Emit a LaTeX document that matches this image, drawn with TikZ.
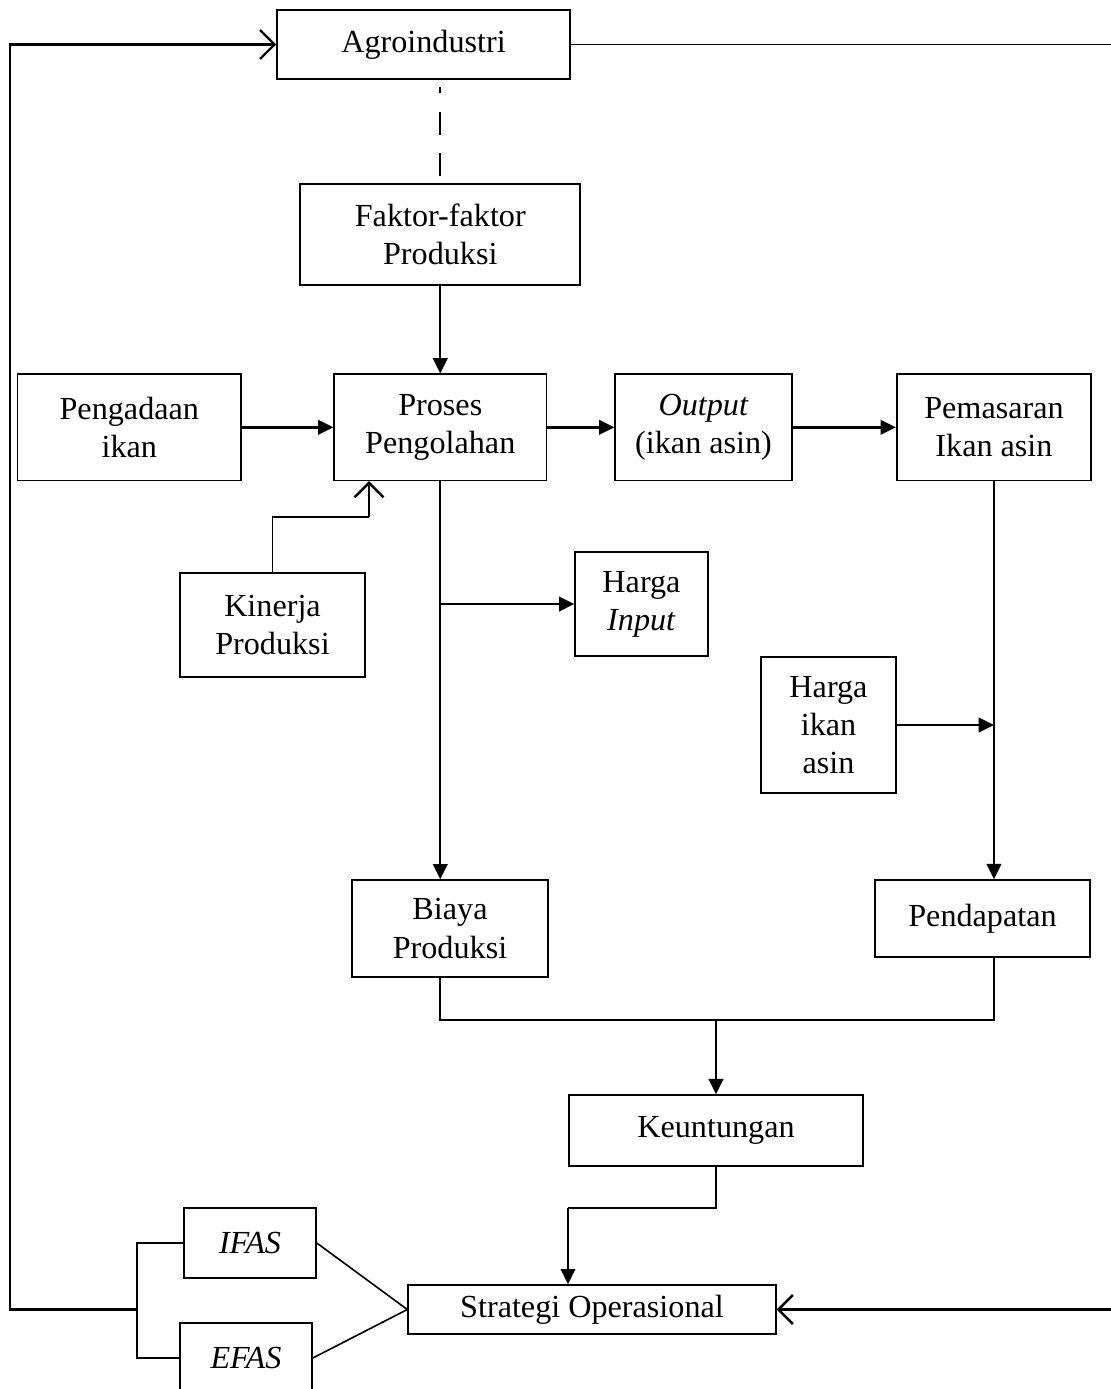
\documentclass[tikz,border=0pt]{standalone}
\usepackage{fontspec}
\setmainfont{Liberation Serif}
\usepackage{tikz}
\usetikzlibrary{positioning, arrows.meta}
\tikzset{
	every node/.append style={
		font=\fontsize{12}{14.2}\selectfont,
	},
	box/.append style={
		draw,
		align = center,
		line width=0.6pt,
		inner sep=0mm,
	},
	flow/.append style={
		line width=0.9pt,
		-{Triangle[length=2mm, width=1.9mm]},
	},
	feed/.append style={
		line width=0.9pt,
		-{Straight Barb[length=1.9mm, width=3.8mm]},
	},
	link/.append style={
		line width=0.6pt,
	},
}

\begin{document}
\begin{tikzpicture}[x=0.0131cm, y=-0.0131cm]
	
	\clip (0,0) rectangle (1111,1389);
	
	\node (agro)[box, minimum width=3.84cm, minimum height=0.9cm] at (423.5,44.5) {Agroindustri};
	\node (faktor)[box, minimum width=3.67cm, minimum height=1.32cm, below=1.36cm of agro, xshift=0.22cm] {Faktor-faktor\\Produksi};
	\draw[link, dash pattern=on 3mm off 2.4mm, shorten <=0.1cm, shorten >=0.1cm] (faktor.north) -- (faktor.north |- agro.south);
	
	%baris proses
	\node (proses)[box, minimum width=2.78cm, minimum height=1.39cm, below=1.15cm of faktor] {Proses\\Pengolahan};
	\node (pengadaan)[box, minimum width=2.93cm, minimum height=1.39cm, left=1.2cm of proses] {Pengadaan\\ikan};
	\node (output)[box, minimum width=2.32cm, minimum height=1.39cm, right=0.88cm of proses] {\textit{Output}\\(ikan asin)};
	\node (pemasaran)[box, minimum width=2.55cm, minimum height=1.39cm, right=1.35cm of output] {Pemasaran\\Ikan asin};
	\draw[flow](faktor) to (proses);
	\draw[flow](pengadaan) to (proses);
	\draw[flow](proses) to (output);
	\draw[flow](output) to (pemasaran);
	
	\node (kinerja)[box, minimum width=2.42cm, minimum height=1.36cm] at (272.5,625) {Kinerja\\Produksi};
	\coordinate (kinK) at (369,517);
	\draw[link](kinerja.north) |- (kinK);
	\draw[feed](kinK) -- (kinK |- proses.south);
	
	\node (hinput)[box, minimum width=1.74cm, minimum height=1.36cm] at (641.5,604) {Harga\\\textit{Input}};
	\node (biaya)[box, minimum width=2.57cm, minimum height=1.27cm] at (450,928.5) {Biaya\\Produksi};
	\draw[flow](proses.south) -- (proses.south |- biaya.north);
	\draw[flow](proses.south |- hinput.west) -- (hinput.west);
	
	\node (hikan)[box, minimum width=1.77cm, minimum height=1.78cm] at (828.5,725) {Harga\\ikan\\asin};
	\node (pendapatan)[box, minimum width=2.82cm, minimum height=1.01cm] at (982.5,918.5) {Pendapatan};
	\draw[flow](pemasaran.south) -- (pemasaran.south |- pendapatan.north);
	\draw[flow](hikan.east) -- (hikan.east -| pemasaran.south);
	
	%keuntungan
	\node (keuntungan)[box, minimum width=3.85cm, minimum height=0.93cm] at (716,1130.5) {Keuntungan};
	\coordinate (join) at (716,1020);
	\draw[link](proses.south |- biaya.south) |- (join) -| (pemasaran.south |- pendapatan.south);
	\draw[flow](join) to (keuntungan.north);
	
	\node (strategi)[box, minimum width=4.82cm, minimum height=0.64cm] at (592,1309.5) {Strategi Operasional};
	\coordinate (keunK) at (568,1208);
	\draw[link](keuntungan.south) |- (keunK);
	\draw[flow](keunK) -- (keunK |- strategi.north);
	
	\node (ifas)[box, minimum width=1.73cm, minimum height=0.92cm] at (250,1243) {\textit{IFAS}};
	\node (efas)[box, minimum width=1.73cm, minimum height=0.92cm] at (246,1358) {\textit{EFAS}};
	\draw[link](ifas.east) -- (strategi.west);
	\draw[link](efas.east) -- (strategi.west);
	
	%umpan balik
	\coordinate (brk) at (137,1309.5);
	\coordinate (loopL) at (10,1309.5);
	\coordinate (edgeT) at (1111,44.5);
	\coordinate (edgeB) at (1111,1309.5);
	\draw[link](ifas.west) -| (brk) |- (efas.west);
	\draw[feed](brk) -- (loopL) |- (agro.west);
	\draw[link](agro.east) -- (edgeT);
	\draw[feed](edgeB) -- (strategi.east);
	
\end{tikzpicture}
\end{document}
